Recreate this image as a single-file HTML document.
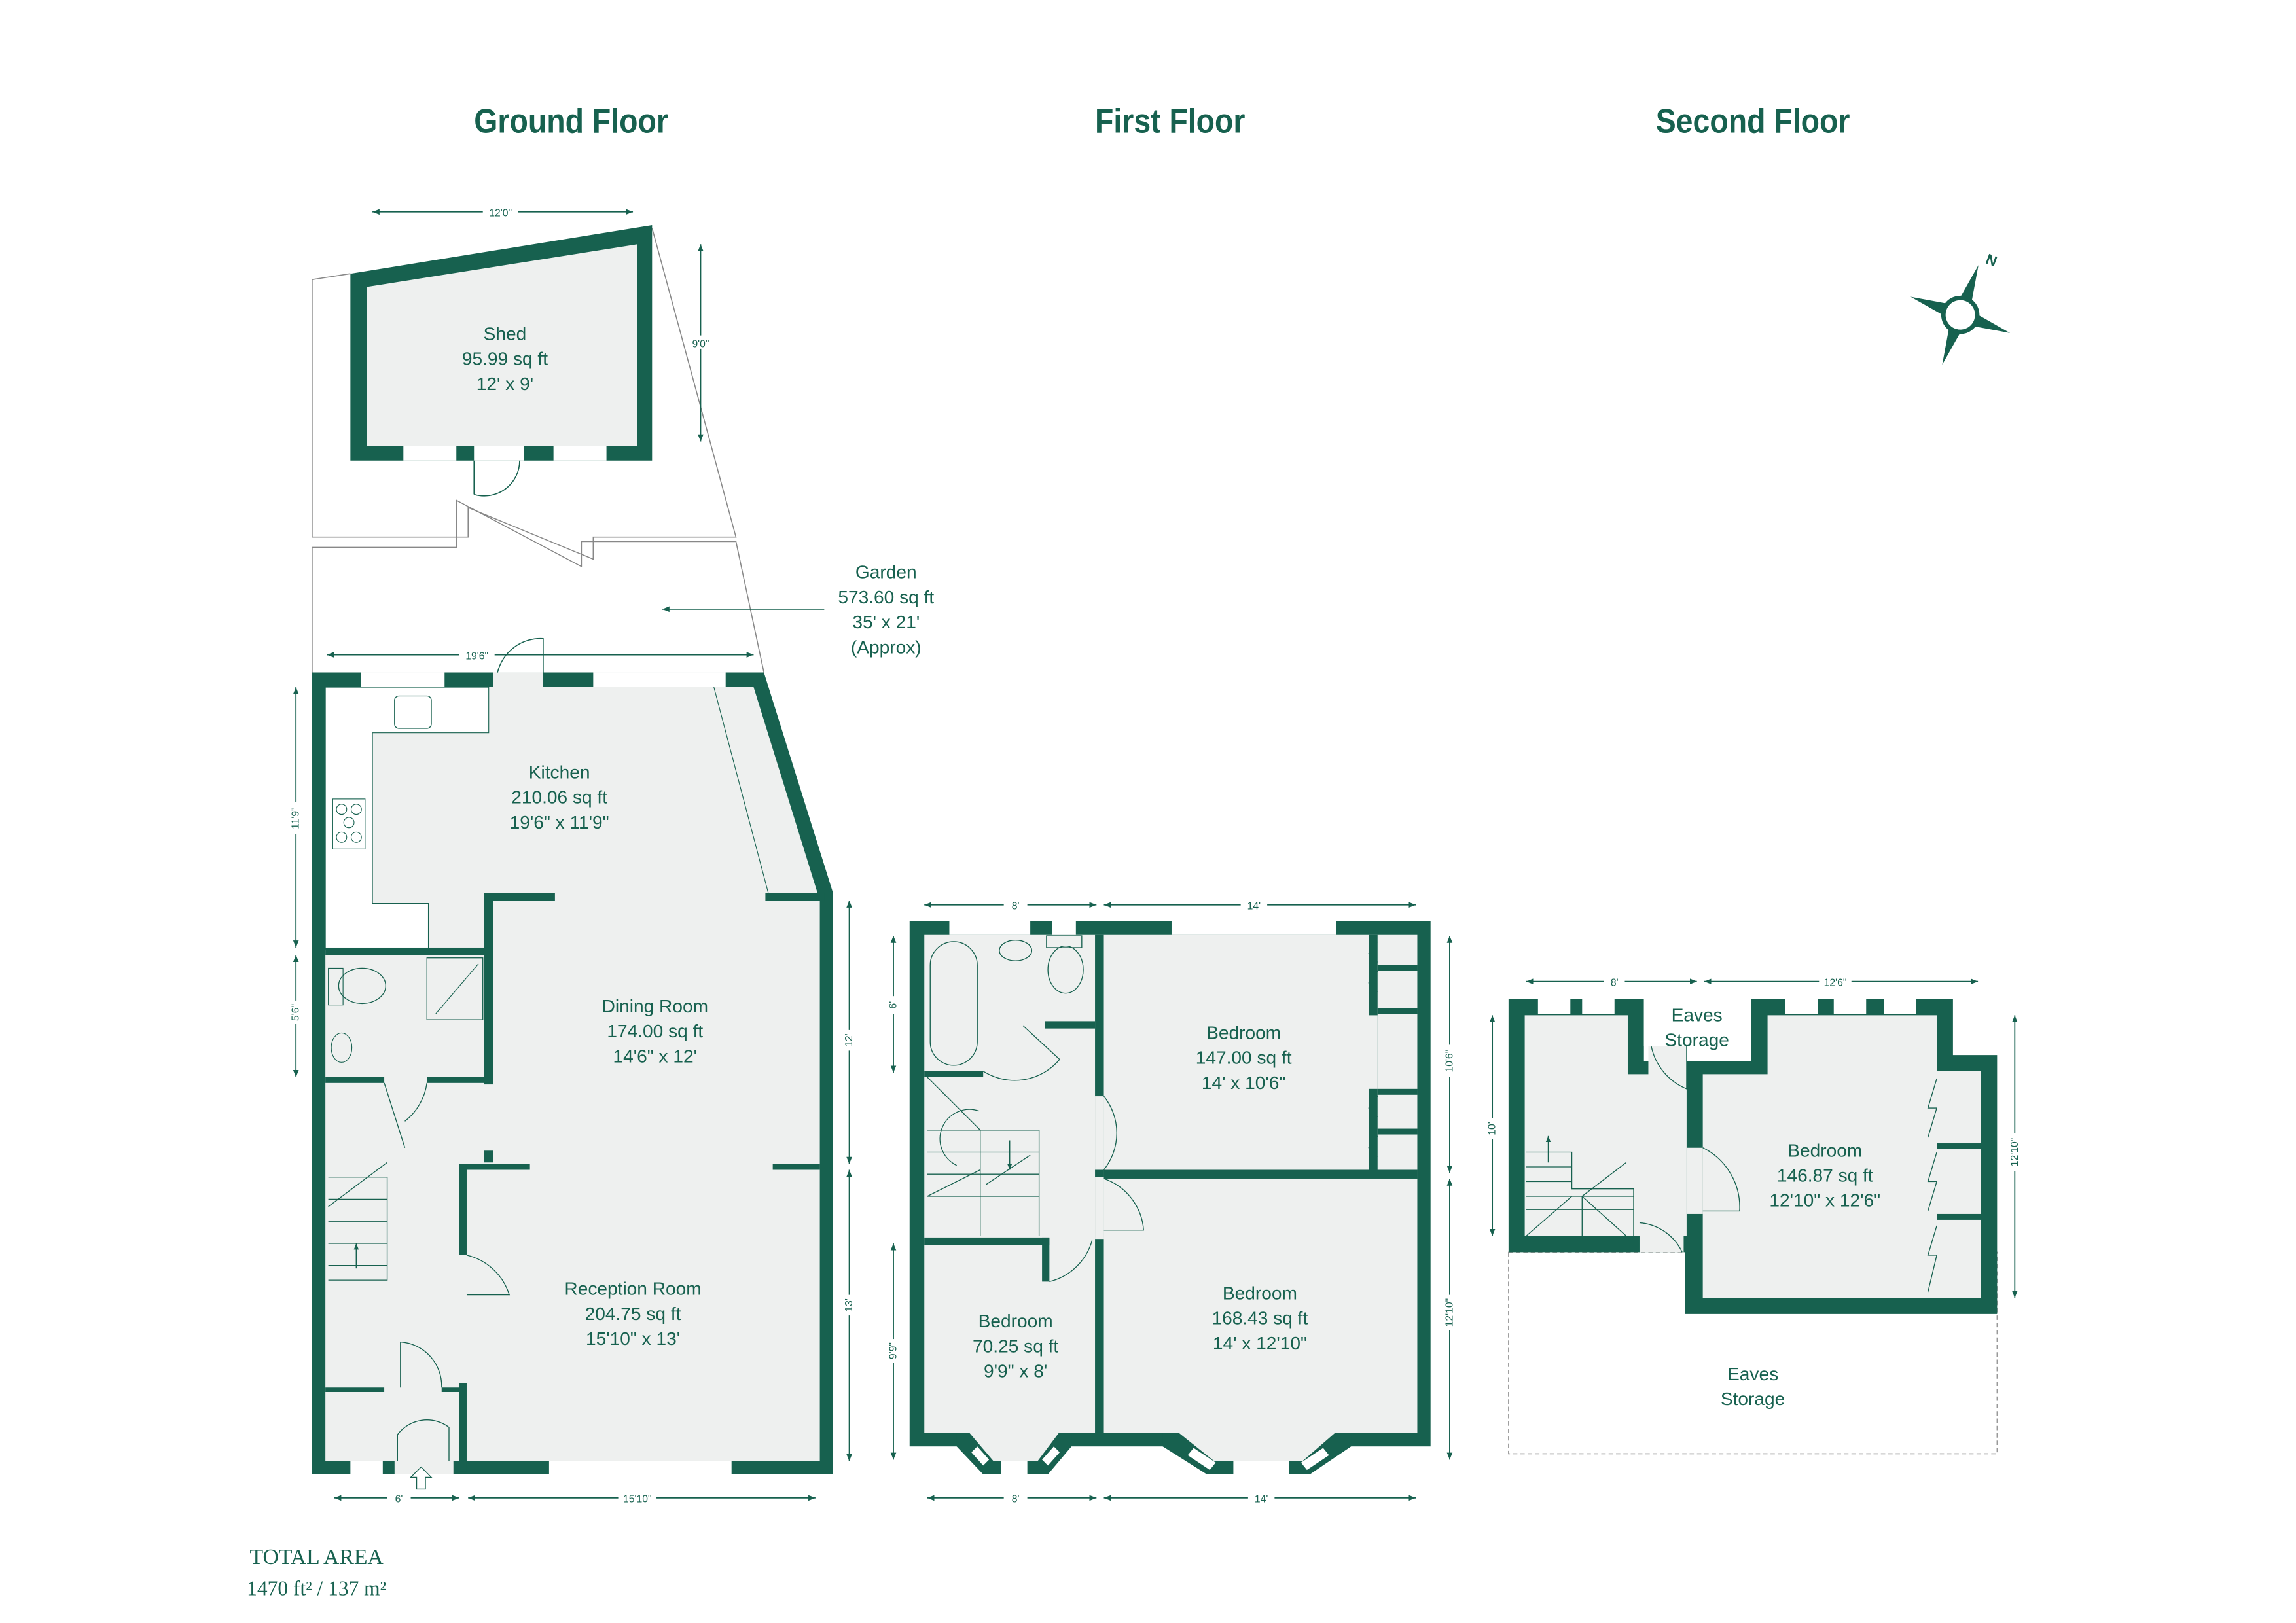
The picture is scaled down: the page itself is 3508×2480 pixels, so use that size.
<!DOCTYPE html>
<html><head><meta charset="utf-8"><style>
html,body{margin:0;padding:0;background:#fff}
svg{display:block}
text{font-family:"Liberation Sans",sans-serif;fill:#17614f}
.t{font-size:12.5px;text-anchor:middle}
.d{font-size:7px;text-anchor:middle}
.h{font-size:23px;font-weight:bold;text-anchor:middle}
</style></head><body>
<svg width="3508" height="2480" viewBox="0 0 1560 1103" xmlns="http://www.w3.org/2000/svg">
<defs>
<marker id="a" viewBox="0 0 10 10" refX="10" refY="5" markerWidth="6" markerHeight="6" orient="auto-start-reverse"><path d="M0,1 L10,5 L0,9z" fill="#17614f"/></marker>
</defs>
<rect width="1560" height="1103" fill="#fff"/>
<g>
<text class="h" x="388" y="90" textLength="132" lengthAdjust="spacingAndGlyphs">Ground Floor</text>
<text class="h" x="795" y="90" textLength="102" lengthAdjust="spacingAndGlyphs">First Floor</text>
<text class="h" x="1191" y="90" textLength="132" lengthAdjust="spacingAndGlyphs">Second Floor</text>
</g>

<!-- Garden lines -->
<g fill="none" stroke="#888" stroke-width="0.7">
<path d="M212,457 L212,372 L310,372 L310,340 L395,385 L395,368 L500,368 L519,457"/>
<path d="M212,365 L212,190 L238,186"/>
<path d="M443,155 L500,365 L403,365 L403,380 L318,345 L318,365 L212,365"/>
</g>
<line x1="560" y1="414" x2="450" y2="414" stroke="#17614f" stroke-width="0.8" marker-end="url(#a)"/>
<text class="t" x="602" y="393">Garden</text>
<text class="t" x="602" y="410">573.60 sq ft</text>
<text class="t" x="602" y="427">35' x 21'</text>
<text class="t" x="602" y="444">(Approx)</text>

<!-- Shed -->
<polygon points="238,186 443,153 443,313 238,313" fill="#17614f"/>
<polygon points="249,195 433,166 433,303 249,303" fill="#eef0ef"/>
<rect x="274" y="303" width="36" height="10" fill="#fff"/>
<rect x="376" y="303" width="36" height="10" fill="#fff"/>
<rect x="322" y="303" width="34" height="10" fill="#fff"/>
<path d="M322,313 L322,336 M322,336 A24,24 0 0 0 353,313" fill="none" stroke="#17614f" stroke-width="0.7"/>
<text class="t" x="343" y="231">Shed</text>
<text class="t" x="343" y="248">95.99 sq ft</text>
<text class="t" x="343" y="265">12' x 9'</text>
<line x1="253" y1="144" x2="430" y2="144" stroke="#17614f" stroke-width="0.8" marker-start="url(#a)" marker-end="url(#a)"/>
<rect x="328" y="140" width="24" height="8" fill="#fff"/><text class="d" x="340" y="147">12'0"</text>
<line x1="476" y1="166" x2="476" y2="300" stroke="#17614f" stroke-width="0.8" marker-start="url(#a)" marker-end="url(#a)"/>
<rect x="466" y="228" width="20" height="9" fill="#fff"/><text class="d" x="476" y="236">9'0"</text>

<!-- Ground floor -->
<polygon points="212,457 519,457 566,607 566,1002 212,1002" fill="#17614f"/>
<polygon points="221,467 512,467 557,612 557,993 221,993" fill="#eef0ef"/>
<path d="M221,467 L332,467 L332,498 L253,498 L253,614 L291,614 L291,645 L221,645z" fill="#fff" stroke="#17614f" stroke-width="0.5"/>
<rect x="268" y="473" width="25" height="22" rx="3" fill="none" stroke="#17614f" stroke-width="0.6"/>
<rect x="226" y="543" width="22" height="34" fill="none" stroke="#17614f" stroke-width="0.5"/>
<g fill="none" stroke="#17614f" stroke-width="0.5"><circle cx="232" cy="550" r="3.5"/><circle cx="242" cy="550" r="3.5"/><circle cx="237" cy="559" r="3.5"/><circle cx="232" cy="569" r="3.5"/><circle cx="242" cy="569" r="3.5"/></g>
<line x1="485" y1="467" x2="522" y2="607" stroke="#17614f" stroke-width="0.5"/>
<rect x="245" y="457" width="57" height="10" fill="#fff"/>
<rect x="403" y="457" width="90" height="10" fill="#fff"/>
<rect x="335" y="457" width="34" height="10" fill="#eef0ef"/>
<path d="M338,457 A30,30 0 0 1 369,434 L369,457" fill="none" stroke="#17614f" stroke-width="0.7"/>
<g fill="#17614f">
<rect x="333" y="607" width="44" height="5"/>
<rect x="520" y="607" width="40" height="5"/>
<rect x="329" y="607" width="6" height="130"/>
<rect x="221" y="644" width="112" height="5"/>
<rect x="221" y="732" width="40" height="4"/>
<rect x="290" y="732" width="43" height="4"/>
<rect x="329" y="782" width="6" height="8"/>
<rect x="314" y="791" width="46" height="4"/>
<rect x="525" y="791" width="32" height="4"/>
<rect x="312" y="791" width="5" height="62"/>
<rect x="312" y="940" width="5" height="60"/>
<rect x="221" y="943" width="40" height="3"/>
<rect x="300" y="943" width="14" height="3"/>
</g>
<rect x="290" y="651" width="38" height="42" fill="none" stroke="#17614f" stroke-width="0.6"/>
<line x1="296" y1="689" x2="325" y2="655" stroke="#17614f" stroke-width="0.5"/>
<ellipse cx="246" cy="670" rx="16" ry="12" fill="none" stroke="#17614f" stroke-width="0.6"/>
<rect x="223" y="658" width="10" height="25" fill="none" stroke="#17614f" stroke-width="0.5"/>
<ellipse cx="232" cy="712" rx="7" ry="10" fill="none" stroke="#17614f" stroke-width="0.5"/>
<g fill="none" stroke="#17614f" stroke-width="0.6">
<path d="M261,736 L275,780 M290,736 A40,40 0 0 1 275,762"/>
<path d="M317,853 A40,40 0 0 1 346,880 L317,880"/>
<path d="M272,912 L272,943 M272,912 A30,30 0 0 1 300,943"/>
<path d="M270,993 L270,975 A25,25 0 0 1 305,970 L305,993"/>
<path d="M223,800 L263,800 L263,870 L223,870"/>
<line x1="223" y1="815" x2="263" y2="815"/><line x1="223" y1="830" x2="263" y2="830"/><line x1="223" y1="845" x2="263" y2="845"/><line x1="223" y1="860" x2="263" y2="860"/>
<line x1="223" y1="820" x2="263" y2="790"/>
</g>
<line x1="242" y1="862" x2="242" y2="845" stroke="#17614f" stroke-width="0.7" marker-end="url(#a)"/>
<rect x="238" y="993" width="22" height="9" fill="#fff"/>
<rect x="373" y="993" width="124" height="9" fill="#fff"/>
<rect x="268" y="993" width="40" height="9" fill="#eef0ef"/>
<path d="M283,1012 L283,1004 L279,1004 L286,997 L293,1004 L289,1004 L289,1012z" fill="#fff" stroke="#17614f" stroke-width="0.6"/>
<text class="t" x="380" y="529">Kitchen</text>
<text class="t" x="380" y="546">210.06 sq ft</text>
<text class="t" x="380" y="563">19'6" x 11'9"</text>
<text class="t" x="445" y="688">Dining Room</text>
<text class="t" x="445" y="705">174.00 sq ft</text>
<text class="t" x="445" y="722">14'6" x 12'</text>
<text class="t" x="430" y="880">Reception Room</text>
<text class="t" x="430" y="897">204.75 sq ft</text>
<text class="t" x="430" y="914">15'10" x 13'</text>
<g stroke="#17614f" stroke-width="0.8">
<line x1="222" y1="445" x2="512" y2="445" marker-start="url(#a)" marker-end="url(#a)"/>
<line x1="201" y1="467" x2="201" y2="644" marker-start="url(#a)" marker-end="url(#a)"/>
<line x1="201" y1="649" x2="201" y2="732" marker-start="url(#a)" marker-end="url(#a)"/>
<line x1="577" y1="612" x2="577" y2="791" marker-start="url(#a)" marker-end="url(#a)"/>
<line x1="577" y1="795" x2="577" y2="993" marker-start="url(#a)" marker-end="url(#a)"/>
<line x1="227" y1="1018" x2="312" y2="1018" marker-start="url(#a)" marker-end="url(#a)"/>
<line x1="318" y1="1018" x2="554" y2="1018" marker-start="url(#a)" marker-end="url(#a)"/>
</g>
<rect x="312" y="441" width="24" height="8" fill="#fff"/><text class="d" x="324" y="448">19'6"</text>
<rect x="196" y="545" width="10" height="22" fill="#fff"/><text class="d" transform="translate(203,556) rotate(-90)">11'9"</text>
<rect x="196" y="680" width="10" height="16" fill="#fff"/><text class="d" transform="translate(203,688) rotate(-90)">5'6"</text>
<rect x="572" y="700" width="10" height="14" fill="#fff"/><text class="d" transform="translate(579,707) rotate(-90)">12'</text>
<rect x="572" y="880" width="10" height="14" fill="#fff"/><text class="d" transform="translate(579,887) rotate(-90)">13'</text>
<rect x="263" y="1014" width="16" height="8" fill="#fff"/><text class="d" x="271" y="1021">6'</text>
<rect x="420" y="1014" width="26" height="8" fill="#fff"/><text class="d" x="433" y="1021">15'10"</text>

<!-- First floor -->
<rect x="618" y="626" width="354" height="357" fill="#17614f"/>
<polygon points="790,974 918,974 918,983 890,1002 820,1002 790,983" fill="#17614f"/>
<polygon points="650,974 728,974 728,983 712,1002 668,1002 650,983" fill="#17614f"/>
<rect x="628" y="635" width="335" height="339" fill="#eef0ef"/>
<polygon points="800,973 908,973 885,993 825,993" fill="#eef0ef"/>
<polygon points="658,973 720,973 705,993 675,993" fill="#eef0ef"/>
<rect x="838" y="993" width="38" height="9" fill="#fff"/>
<rect x="680" y="993" width="18" height="9" fill="#fff"/>
<polygon points="807,989 822,999 826,994 811,984" fill="#fff"/>
<polygon points="888,999 903,989 899,984 884,994" fill="#fff"/>
<polygon points="660,987 668,996 672,992 664,983" fill="#fff"/>
<polygon points="712,996 720,987 716,983 708,992" fill="#fff"/>
<rect x="645" y="626" width="55" height="9" fill="#fff"/>
<rect x="715" y="626" width="16" height="9" fill="#fff"/>
<rect x="796" y="626" width="112" height="9" fill="#fff"/>
<g fill="#17614f">
<rect x="744" y="635" width="6" height="339"/>
<rect x="744" y="745" width="6" height="50" fill="#eef0ef"/>
<rect x="744" y="800" width="6" height="42" fill="#eef0ef"/>
<rect x="750" y="795" width="213" height="6"/>
<rect x="628" y="841" width="85" height="5"/>
<rect x="708" y="841" width="5" height="30"/>
<rect x="710" y="694" width="34" height="5"/>
<rect x="628" y="728" width="40" height="4"/>
<rect x="930" y="635" width="6" height="160"/>
<rect x="936" y="656" width="27" height="4"/>
<rect x="936" y="685" width="27" height="4"/>
<rect x="936" y="740" width="27" height="4"/>
<rect x="936" y="767" width="27" height="4"/>
</g>
<rect x="930" y="690" width="6" height="50" fill="#eef0ef"/>
<g fill="none" stroke="#17614f" stroke-width="0.6">
<rect x="632" y="640" width="32" height="84" rx="16"/>
<ellipse cx="690" cy="646" rx="11" ry="7"/>
<rect x="711" y="636" width="24" height="8"/>
<ellipse cx="724" cy="659" rx="12" ry="16"/>
<path d="M695,697 L720,720 M668,728 A40,40 0 0 0 720,720"/>
<path d="M750,745 A40,40 0 0 1 750,795"/>
<path d="M750,801 A40,40 0 0 1 777,836 L750,836"/>
<path d="M713,871 A40,40 0 0 0 742,843"/>
<path d="M630,768 L706,768 L706,840 M630,783 L706,783 M630,798 L706,798 M630,813 L706,813"/>
<line x1="666" y1="768" x2="666" y2="840"/>
<line x1="630" y1="813" x2="666" y2="795"/><line x1="670" y1="805" x2="700" y2="785"/>
<line x1="630" y1="732" x2="666" y2="768"/>
<path d="M650,792 A20,20 0 0 1 665,755"/>
<path d="M936,640 l-6,8 l6,6 M936,660 l-6,8 l6,6 M936,745 l-6,8 l6,6 M936,772 l-6,8 l6,6"/>
</g>
<line x1="686" y1="775" x2="686" y2="795" stroke="#17614f" stroke-width="0.7" marker-end="url(#a)"/>
<text class="t" x="845" y="706">Bedroom</text>
<text class="t" x="845" y="723">147.00 sq ft</text>
<text class="t" x="845" y="740">14' x 10'6"</text>
<text class="t" x="856" y="883">Bedroom</text>
<text class="t" x="856" y="900">168.43 sq ft</text>
<text class="t" x="856" y="917">14' x 12'10"</text>
<text class="t" x="690" y="902">Bedroom</text>
<text class="t" x="690" y="919">70.25 sq ft</text>
<text class="t" x="690" y="936">9'9" x 8'</text>
<g stroke="#17614f" stroke-width="0.8">
<line x1="628" y1="615" x2="745" y2="615" marker-start="url(#a)" marker-end="url(#a)"/>
<line x1="750" y1="615" x2="962" y2="615" marker-start="url(#a)" marker-end="url(#a)"/>
<line x1="607" y1="636" x2="607" y2="729" marker-start="url(#a)" marker-end="url(#a)"/>
<line x1="607" y1="845" x2="607" y2="992" marker-start="url(#a)" marker-end="url(#a)"/>
<line x1="985" y1="636" x2="985" y2="797" marker-start="url(#a)" marker-end="url(#a)"/>
<line x1="985" y1="801" x2="985" y2="992" marker-start="url(#a)" marker-end="url(#a)"/>
<line x1="630" y1="1018" x2="745" y2="1018" marker-start="url(#a)" marker-end="url(#a)"/>
<line x1="750" y1="1018" x2="962" y2="1018" marker-start="url(#a)" marker-end="url(#a)"/>
</g>
<rect x="682" y="611" width="16" height="8" fill="#fff"/><text class="d" x="690" y="618">8'</text>
<rect x="843" y="611" width="18" height="8" fill="#fff"/><text class="d" x="852" y="618">14'</text>
<rect x="682" y="1014" width="16" height="8" fill="#fff"/><text class="d" x="690" y="1021">8'</text>
<rect x="848" y="1014" width="18" height="8" fill="#fff"/><text class="d" x="857" y="1021">14'</text>
<rect x="602" y="677" width="10" height="12" fill="#fff"/><text class="d" transform="translate(609,683) rotate(-90)">6'</text>
<rect x="602" y="910" width="10" height="16" fill="#fff"/><text class="d" transform="translate(609,918) rotate(-90)">9'9"</text>
<rect x="980" y="710" width="10" height="22" fill="#fff"/><text class="d" transform="translate(987,721) rotate(-90)">10'6"</text>
<rect x="980" y="880" width="10" height="24" fill="#fff"/><text class="d" transform="translate(987,892) rotate(-90)">12'10"</text>

<!-- Second floor -->
<rect x="1025" y="851" width="332" height="137" fill="none" stroke="#999" stroke-width="0.7" stroke-dasharray="3,2"/>
<text class="t" x="1191" y="938">Eaves</text>
<text class="t" x="1191" y="955">Storage</text>
<polygon points="1025,679 1117,679 1117,721 1190,721 1190,679 1327,679 1327,717 1357,717 1357,893 1145,893 1145,851 1025,851" fill="#17614f"/>
<rect x="1117" y="679" width="73" height="32" fill="#fff"/>
<polygon points="1036,690 1106,690 1106,730 1146,730 1146,840 1036,840" fill="#eef0ef"/>
<polygon points="1157,730 1201,730 1201,690 1316,690 1316,728 1346,728 1346,882 1157,882" fill="#eef0ef"/>
<rect x="1146" y="780" width="11" height="45" fill="#eef0ef"/>
<rect x="1120" y="711" width="26" height="20" fill="#eef0ef"/>
<rect x="1114" y="840" width="30" height="11" fill="#eef0ef"/>
<rect x="1045" y="679" width="22" height="10" fill="#fff"/>
<rect x="1075" y="679" width="22" height="10" fill="#fff"/>
<rect x="1213" y="679" width="22" height="10" fill="#fff"/>
<rect x="1246" y="679" width="22" height="10" fill="#fff"/>
<rect x="1280" y="679" width="22" height="10" fill="#fff"/>
<text class="t" x="1153" y="694">Eaves</text>
<text class="t" x="1153" y="711">Storage</text>
<g fill="#17614f">
<rect x="1316" y="777" width="30" height="4"/>
<rect x="1316" y="825" width="30" height="4"/>
</g>
<g fill="none" stroke="#17614f" stroke-width="0.6">
<path d="M1122,711 A40,40 0 0 0 1146,740 L1146,711"/>
<path d="M1157,780 A45,45 0 0 1 1182,823 L1157,823"/>
<path d="M1114,831 A35,35 0 0 1 1143,851"/>
<path d="M1037,783 L1068,783 L1068,808 L1110,808 L1110,840 M1037,793 L1068,793 M1037,803 L1068,803 M1037,813 L1110,813 M1037,822 L1110,822"/>
<line x1="1075" y1="813" x2="1075" y2="840"/>
<line x1="1037" y1="840" x2="1068" y2="813"/><line x1="1075" y1="813" x2="1105" y2="840"/>
<line x1="1075" y1="813" x2="1105" y2="790"/>
<path d="M1316,733 l-6,20 l6,0 l-6,20 M1316,783 l-6,20 l6,0 l-6,20 M1316,833 l-6,20 l6,0 l-6,25"/>
</g>
<line x1="1052" y1="790" x2="1052" y2="772" stroke="#17614f" stroke-width="0.7" marker-end="url(#a)"/>
<text class="t" x="1240" y="786">Bedroom</text>
<text class="t" x="1240" y="803">146.87 sq ft</text>
<text class="t" x="1240" y="820">12'10" x 12'6"</text>
<g stroke="#17614f" stroke-width="0.8">
<line x1="1037" y1="667" x2="1153" y2="667" marker-start="url(#a)" marker-end="url(#a)"/>
<line x1="1158" y1="667" x2="1344" y2="667" marker-start="url(#a)" marker-end="url(#a)"/>
<line x1="1014" y1="690" x2="1014" y2="840" marker-start="url(#a)" marker-end="url(#a)"/>
<line x1="1369" y1="690" x2="1369" y2="882" marker-start="url(#a)" marker-end="url(#a)"/>
</g>
<rect x="1090" y="663" width="14" height="8" fill="#fff"/><text class="d" x="1097" y="670">8'</text>
<rect x="1236" y="663" width="22" height="8" fill="#fff"/><text class="d" x="1247" y="670">12'6"</text>
<rect x="1009" y="760" width="10" height="14" fill="#fff"/><text class="d" transform="translate(1016,767) rotate(-90)">10'</text>
<rect x="1364" y="770" width="10" height="26" fill="#fff"/><text class="d" transform="translate(1371,783) rotate(-90)">12'10"</text>

<!-- compass -->
<g transform="translate(1332,214) rotate(20)" fill="#17614f">
<polygon points="0,-36 -4,-12 4,-12"/>
<polygon points="0,36 -4,12 4,12"/>
<polygon points="-36,0 -12,-4 -12,4"/>
<polygon points="36,0 12,-4 12,4"/>
<circle r="13" fill="#17614f"/><circle r="10" fill="#fff"/>
</g>
<text x="1352" y="180" font-size="10" font-weight="bold" transform="rotate(20 1352 180)" text-anchor="middle">N</text>

<text x="215" y="1063" font-size="15" text-anchor="middle" style="font-family:'Liberation Serif',serif">TOTAL AREA</text>
<text x="215" y="1084" font-size="14" text-anchor="middle" style="font-family:'Liberation Serif',serif">1470 ft² / 137 m²</text>
</svg>
</body></html>
